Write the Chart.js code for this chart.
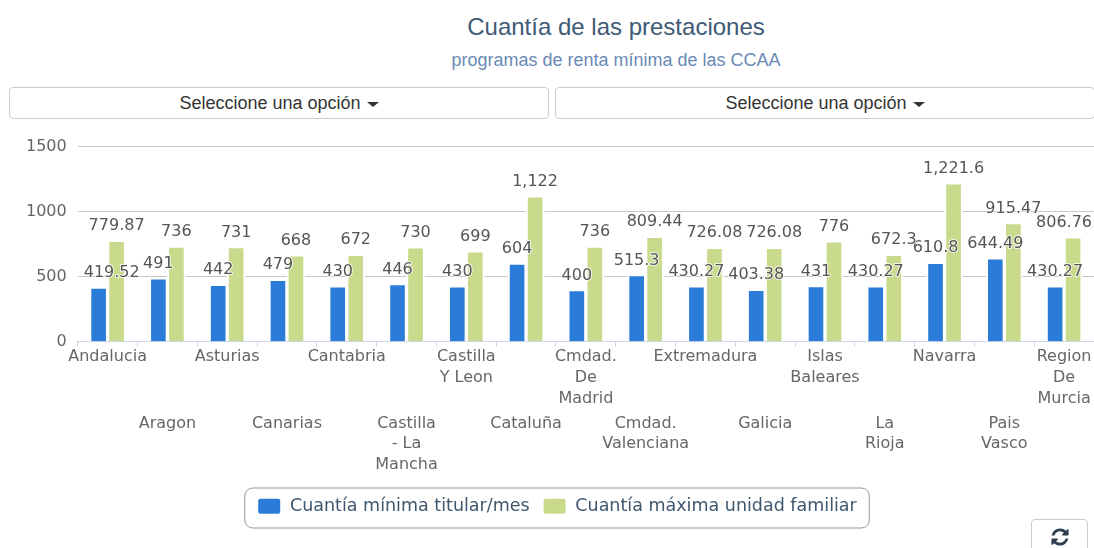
<!DOCTYPE html>
<html>
<head>
<meta charset="utf-8">
<script src="https://cdn.jsdelivr.net/npm/chart.js@4"></script>
<style>
  html, body { margin: 0; padding: 0; background: #fff; overflow: hidden; }
  body { position: relative; width: 1094px; height: 548px; font-family: "Liberation Sans", sans-serif; }
  h1, h2 { position: absolute; left: 69px; width: 1094px; margin: 0; text-align: center; font-weight: normal; }
  h1 { top: 13px; font-size: 24px; color: #3e5a75; }
  h2 { top: 50px; font-size: 18px; color: #6a8ab5; }
  .pick { position: absolute; top: 87px; height: 30px; line-height: 30px; border: 1px solid #ccc; border-radius: 4px; text-align: center; font-size: 18px; color: #333; }
  .pick i { display: inline-block; margin-left: 1px; vertical-align: middle; border-top: 5px solid #333; border-left: 6px solid transparent; border-right: 6px solid transparent; }
  #left { left: 9px; width: 538px; }
  #right { left: 555px; width: 538px; }
  #reload { position: absolute; left: 1031px; top: 519px; width: 55px; height: 40px; border: 1px solid #ccc; border-radius: 4px; }
  #reload svg { position: absolute; left: 18px; top: 7px; width: 20px; height: 20px; fill: #2c3e50; }
  #wrap { position: absolute; left: 20px; top: 126px; width: 1094px; height: 422px; }
</style>
</head>
<body>
<h1>Cuantía de las prestaciones</h1>
<h2>programas de renta mínima de las CCAA</h2>
<div class="pick" id="left">Seleccione una opción <i></i></div>
<div class="pick" id="right">Seleccione una opción <i></i></div>
<div id="wrap"><canvas id="chart"></canvas></div>
<div id="reload"><svg viewBox="0 0 1792 1792"><path d="M1639 1056q0 5-1 7-64 268-268 434.5t-478 166.5q-146 0-282.5-55t-243.5-157l-129 129q-19 19-45 19t-45-19-19-45v-448q0-26 19-45t45-19h448q26 0 45 19t19 45-19 45l-137 137q71 66 161 102t187 36q134 0 250-65t186-179q11-17 53-117 8-23 30-23h192q13 0 22.5 9.5t9.5 22.5zm25-800v448q0 26-19 45t-45 19h-448q-26 0-45-19t-19-45 19-45l138-138q-148-137-349-137-134 0-250 65t-186 179q-11 17-53 117-8 23-30 23h-199q-13 0-22.5-9.5t-9.5-22.5v-7q65-268 270-434.5t480-166.5q146 0 284 55.5t245 156.5l130-129q19-19 45-19t45 19 19 45z"/></svg></div>
<script>
const categories = [
  ['Andalucia'], ['Aragon'], ['Asturias'], ['Canarias'], ['Cantabria'],
  ['Castilla', '- La', 'Mancha'], ['Castilla', 'Y Leon'], ['Cataluña'],
  ['Cmdad.', 'De', 'Madrid'], ['Cmdad.', 'Valenciana'], ['Extremadura'], ['Galicia'],
  ['Islas', 'Baleares'], ['La', 'Rioja'], ['Navarra'], ['Pais', 'Vasco'], ['Region', 'De', 'Murcia']
];
const cuantiaMinima = [419.52, 491, 442, 479, 430, 446, 430, 604, 400, 515.3, 430.27, 403.38, 431, 430.27, 610.8, 644.49, 430.27];
const cuantiaMaxima = [779.87, 736, 731, 668, 672, 730, 699, 1122, 736, 809.44, 726.08, 726.08, 776, 672.3, 1221.6, 915.47, 806.76];

const FONT = '"DejaVu Sans", sans-serif';

// value labels above the bars, kept inside the plot like the original
const valueLabels = {
  id: 'valueLabels',
  afterDatasetsDraw(chart) {
    const ctx = chart.ctx;
    const area = chart.chartArea;
    ctx.save();
    ctx.font = '16px ' + FONT;
    ctx.textAlign = 'center';
    ctx.textBaseline = 'alphabetic';
    ctx.lineJoin = 'round';
    ctx.lineWidth = 2;
    ctx.strokeStyle = 'rgba(255,255,255,0.8)';
    ctx.fillStyle = '#555';
    chart.data.datasets.forEach((ds, i) => {
      chart.getDatasetMeta(i).data.forEach((bar, j) => {
        const txt = ds.data[j].toLocaleString('en-US');
        const half = ctx.measureText(txt).width / 2;
        const x = Math.min(Math.max(bar.x, area.left + 6 + half), area.right - 2 - half);
        ctx.strokeText(txt, x, bar.y - 10);
        ctx.fillText(txt, x, bar.y - 10);
      });
    });
    ctx.restore();
  }
};

// rounded frame round the legend
const legendFrame = {
  id: 'legendFrame',
  afterDraw(chart) {
    const boxes = chart.legend.legendHitBoxes;
    const first = boxes[0], last = boxes[boxes.length - 1];
    const ctx = chart.ctx;
    ctx.save();
    ctx.strokeStyle = '#999';
    ctx.lineWidth = 1;
    ctx.beginPath();
    ctx.roundRect(first.left - 12.5, first.top - 9.5, last.left + last.width - first.left + 25, 40, 8);
    ctx.stroke();
    ctx.restore();
  }
};

new Chart(document.getElementById('chart'), {
  type: 'bar',
  data: {
    labels: categories,
    datasets: [
      { label: 'Cuantía mínima titular/mes', data: cuantiaMinima, backgroundColor: '#2b7cd9', borderColor: '#fff', borderWidth: 2, barThickness: 18 },
      { label: 'Cuantía máxima unidad familiar', data: cuantiaMaxima, backgroundColor: '#c9da8c', borderColor: '#fff', borderWidth: 2, barThickness: 18 }
    ]
  },
  plugins: [valueLabels, legendFrame],
  options: {
    responsive: true,
    maintainAspectRatio: false,
    animation: false,
    layout: { padding: { top: 16, right: 20, bottom: 23 } },
    scales: {
      x: {
        grid: { drawOnChartArea: false, color: '#ccd6eb', tickLength: 5 },
        border: { color: '#ccd6eb' },
        afterFit(scale) { scale.height -= 4; },
        ticks: {
          autoSkip: false, maxRotation: 0, minRotation: 0, padding: 0,
          color: '#666', font: { family: FONT, size: 16, lineHeight: 1.3 },
          callback(value, index) { return index % 2 === 0 ? this.getLabelForValue(value) : ''; }
        }
      },
      x2: {
        type: 'category',
        position: 'bottom',
        weight: 1,
        grid: { display: false },
        border: { display: false },
        afterFit(scale) { scale.height += 9; },
        ticks: {
          autoSkip: false, maxRotation: 0, minRotation: 0, padding: 0,
          color: '#666', font: { family: FONT, size: 16, lineHeight: 1.3 },
          callback(value, index) { return index % 2 === 1 ? this.getLabelForValue(value) : ''; }
        }
      },
      y: {
        min: 0, max: 1500,
        afterFit(scale) { scale.width -= 5; },
        grid: { color: '#c8c8c8', drawTicks: false },
        border: { display: false },
        ticks: {
          stepSize: 500, padding: 11,
          color: '#666', font: { family: FONT, size: 16 },
          callback: v => String(v)
        }
      }
    },
    plugins: {
      legend: {
        position: 'bottom',
        labels: {
          boxWidth: 24, boxHeight: 17, useBorderRadius: true, borderRadius: 3, padding: 13,
          color: '#3e576f', font: { family: FONT, size: 17.5 }
        }
      },
      tooltip: { enabled: false }
    }
  }
});
</script>
</body>
</html>
